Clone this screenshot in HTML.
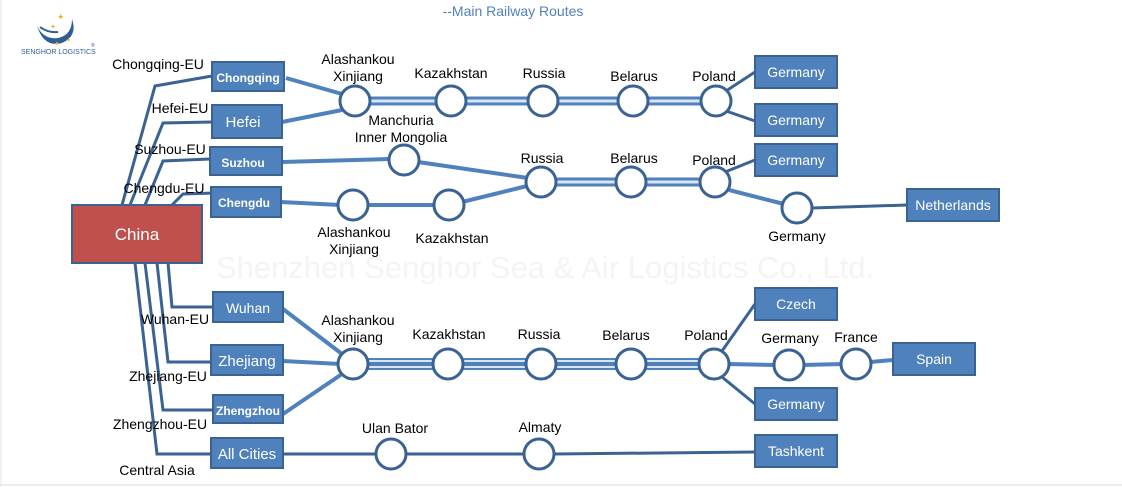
<!DOCTYPE html>
<html><head><meta charset="utf-8"><style>
html,body{margin:0;padding:0;background:#fff;width:1122px;height:487px;overflow:hidden}
svg text{font-family:"Liberation Sans",Arial,sans-serif}
</style></head><body>
<svg width="1122" height="487" viewBox="0 0 1122 487" xmlns="http://www.w3.org/2000/svg">
<line x1="0" y1="485" x2="1122" y2="485" stroke="#d8d8d8"/>
<line x1="1" y1="0" x2="1" y2="487" stroke="#e4e4e4"/>
<text x="513" y="16" font-size="14" fill="#4f81bd" text-anchor="middle">--Main Railway Routes</text>
<!-- logo -->
<path d="M37,26 Q44,40 58,38 Q72,35 72,19 Q78,36 62,43 Q44,48 37,26Z" fill="#2e5f94"/>
<path d="M40,27 Q48,33 58,32" stroke="#2e5f94" stroke-width="2" fill="none"/>
<text x="57" y="20" font-size="9" fill="#e6b23a">✦</text><text x="50" y="29" font-size="7" fill="#e6b23a">✦</text><text x="54" y="46" font-size="7" fill="#e6b23a">✦</text><text x="66" y="42" font-size="6" fill="#e6b23a">✦</text>
<text x="21" y="54" font-size="7" fill="#2e5f94">SENGHOR LOGISTICS</text>
<text x="91" y="47" font-size="5" fill="#2e5f94">®</text>
<text x="545" y="278" font-size="31" fill="#f4f4f4" text-anchor="middle">Shenzhen Senghor Sea &amp; Air Logistics Co., Ltd.</text>
<g fill="none" stroke="#3a6293" stroke-width="3">
<polyline points="122,205 155,86 212,76"/>
<polyline points="130,205 163,123 212,122"/>
<polyline points="145,205 163,161 210,159"/>
<polyline points="172,205 183,194 215,193"/>
<polyline points="168,263 172,307 213,307"/>
<polyline points="157,263 168,362 211,362"/>
<polyline points="145,263 163,410 213,410"/>
<polyline points="135,263 157,454 211,454"/>
</g>
<g fill="none" stroke="#4f81bd" stroke-width="4">
<line x1="286" y1="78" x2="342" y2="94"/>
<line x1="282" y1="122" x2="342" y2="110"/>
<line x1="282" y1="162" x2="390" y2="159"/>
<line x1="418" y1="162" x2="528" y2="178"/>
<line x1="281" y1="202" x2="340" y2="205"/>
<line x1="366" y1="205" x2="436" y2="205"/>
<line x1="462" y1="202" x2="527" y2="186"/>
<line x1="729" y1="190" x2="784" y2="204"/>
<line x1="283" y1="309" x2="342" y2="354"/>
<line x1="283" y1="361" x2="340" y2="364"/>
<line x1="283" y1="414" x2="342" y2="374"/>
<line x1="727" y1="364" x2="776" y2="365"/>
<line x1="802" y1="365" x2="843" y2="364"/>
<line x1="870" y1="362" x2="893" y2="360"/>
</g>
<g fill="none" stroke="#3a6293" stroke-width="3">
<line x1="726" y1="91" x2="755" y2="72"/>
<line x1="726" y1="111" x2="755" y2="121"/>
<line x1="725" y1="172" x2="755" y2="160"/>
<line x1="812" y1="208" x2="907" y2="205"/>
<line x1="722" y1="351" x2="755" y2="304"/>
<line x1="722" y1="377" x2="755" y2="404"/>
<line x1="283" y1="454" x2="376" y2="454"/>
<line x1="406" y1="454" x2="524" y2="454"/>
<line x1="554" y1="454" x2="755" y2="452"/>
</g>
<g>
<path d="M355,101 H716" stroke="#4f81bd" stroke-width="9"/>
<path d="M355,101 H716" stroke="#dbe5f1" stroke-width="3"/>
<path d="M541,182 H715" stroke="#4f81bd" stroke-width="9"/>
<path d="M541,182 H715" stroke="#dbe5f1" stroke-width="3"/>
<path d="M353,364 H714" stroke="#4f81bd" stroke-width="12"/>
<path d="M353,361 H714 M353,367 H714" stroke="#dbe5f1" stroke-width="2"/>
</g>
<g fill="#fff" stroke="#3a6293" stroke-width="3">
<circle cx="355" cy="101" r="15"/><circle cx="451" cy="101" r="15"/><circle cx="543" cy="101" r="15"/><circle cx="633" cy="101" r="15"/><circle cx="716" cy="101" r="15"/>
<circle cx="404" cy="160" r="15"/><circle cx="541" cy="182" r="15"/><circle cx="631" cy="182" r="15"/><circle cx="715" cy="182" r="15"/><circle cx="797" cy="208" r="15"/>
<circle cx="353" cy="205" r="15"/><circle cx="449" cy="205" r="15"/>
<circle cx="353" cy="364" r="15"/><circle cx="448" cy="364" r="15"/><circle cx="541" cy="364" r="15"/><circle cx="631" cy="364" r="15"/><circle cx="714" cy="364" r="15"/><circle cx="789" cy="365" r="15"/><circle cx="856" cy="364" r="15"/>
<circle cx="391" cy="454" r="15"/><circle cx="539" cy="454" r="15"/>
</g>
<rect x="72" y="205" width="130" height="58" fill="#c0504d" stroke="#3a6293" stroke-width="2"/>
<text x="137" y="240" font-size="17" fill="#fff" text-anchor="middle">China</text>
<g fill="#4f81bd" stroke="#3a6293" stroke-width="2">
<rect x="212" y="62" width="72" height="29"/><rect x="212" y="105" width="70" height="33"/><rect x="210" y="147" width="72" height="28"/><rect x="211" y="187" width="70" height="30"/>
<rect x="213" y="292" width="70" height="30"/><rect x="211" y="345" width="72" height="30"/><rect x="213" y="395" width="70" height="28"/><rect x="211" y="438" width="72" height="30"/>
<rect x="755" y="56" width="82" height="32"/><rect x="755" y="104" width="82" height="32"/><rect x="755" y="144" width="82" height="32"/><rect x="907" y="189" width="92" height="32"/>
<rect x="755" y="288" width="82" height="32"/><rect x="893" y="343" width="82" height="32"/><rect x="755" y="388" width="82" height="32"/><rect x="755" y="435" width="82" height="32"/>
</g>
<g fill="#fff" text-anchor="middle" font-size="14">
<text x="248" y="82" font-size="12" font-weight="bold">Chongqing</text><text x="243" y="127" font-size="15">Hefei</text><text x="243" y="167" font-size="12" font-weight="bold">Suzhou</text><text x="244" y="207" font-size="12" font-weight="bold">Chengdu</text>
<text x="248" y="313">Wuhan</text><text x="247" y="366" font-size="15">Zhejiang</text><text x="248" y="415" font-size="12" font-weight="bold">Zhengzhou</text><text x="247" y="459" font-size="15">All Cities</text>
<text x="796" y="77">Germany</text><text x="796" y="125">Germany</text><text x="796" y="165">Germany</text><text x="953" y="210">Netherlands</text>
<text x="796" y="309">Czech</text><text x="934" y="364">Spain</text><text x="796" y="409">Germany</text><text x="796" y="456">Tashkent</text>
</g>
<g fill="#000" font-size="14" text-anchor="middle">
<text x="158" y="69">Chongqing-EU</text><text x="180" y="113">Hefei-EU</text><text x="170" y="154">Suzhou-EU</text><text x="164" y="193">Chengdu-EU</text>
<text x="175" y="324">Wuhan-EU</text><text x="168" y="381">Zhejiang-EU</text><text x="160" y="429">Zhengzhou-EU</text><text x="157" y="475">Central Asia</text>
<text x="358" y="64">Alashankou</text><text x="358" y="81">Xinjiang</text><text x="451" y="78">Kazakhstan</text><text x="544" y="78">Russia</text><text x="634" y="81">Belarus</text><text x="714" y="81">Poland</text>
<text x="401" y="125">Manchuria</text><text x="401" y="142">Inner Mongolia</text><text x="542" y="163">Russia</text><text x="634" y="163">Belarus</text><text x="714" y="165">Poland</text><text x="797" y="241">Germany</text>
<text x="354" y="237">Alashankou</text><text x="354" y="254">Xinjiang</text><text x="452" y="243">Kazakhstan</text>
<text x="358" y="325">Alashankou</text><text x="358" y="342">Xinjiang</text><text x="449" y="339">Kazakhstan</text><text x="539" y="339">Russia</text><text x="626" y="340">Belarus</text><text x="706" y="340">Poland</text><text x="790" y="343">Germany</text><text x="856" y="342">France</text>
<text x="395" y="433">Ulan Bator</text><text x="540" y="432">Almaty</text>
</g>
</svg>
</body></html>
